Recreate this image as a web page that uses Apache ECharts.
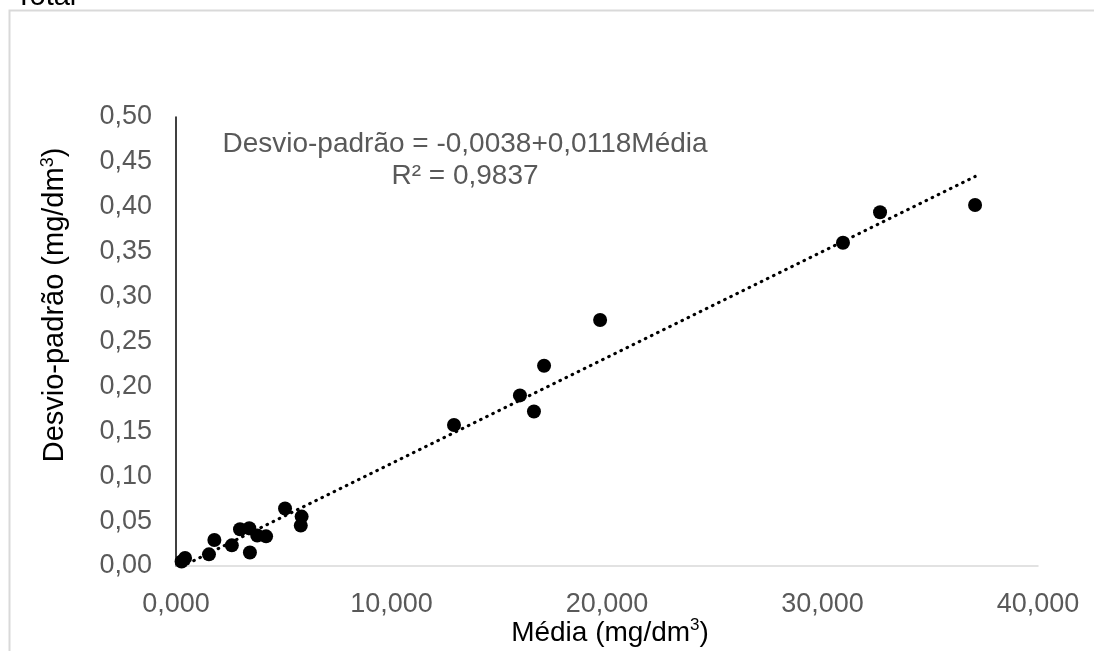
<!DOCTYPE html>
<html>
<head>
<meta charset="utf-8">
<script src="https://cdn.jsdelivr.net/npm/echarts@6/dist/echarts.min.js"></script>
<style>
  html, body { margin: 0; padding: 0; background: #fff; }
  #chart { width: 1094px; height: 651px; }
</style>
</head>
<body>
<div id="chart"></div>
<script>
// Média (mg/dm³) of each sample
const mediaValues = [0.26, 0.42, 1.53, 1.78, 2.59, 2.97, 3.40, 3.43, 3.77, 4.18,
                     5.06, 5.83, 5.79, 12.90, 15.96, 16.61, 17.08, 19.68, 30.95, 32.67, 37.08];
// Desvio-padrão (mg/dm³) of each sample
const desvioValues = [0.005, 0.009, 0.013, 0.029, 0.023, 0.041, 0.042, 0.015, 0.034, 0.033,
                      0.064, 0.055, 0.045, 0.157, 0.190, 0.172, 0.223, 0.274, 0.360, 0.394, 0.402];
// Linear fit: Desvio-padrão = intercept + slope * Média
const fitCoefficients = [-0.0038, 0.0118];
const fitR2 = [0.9837];
// Axis ranges [min, max, step]
const xAxisRange = [0, 40, 10];
const yAxisRange = [0, 0.5, 0.05];

const fmt = (v, d) => v.toFixed(d).replace('.', ',');

const points = mediaValues.map((x, i) => [x, desvioValues[i]]);
const xMin = Math.min(...mediaValues), xMax = Math.max(...mediaValues);
const fitLine = [xMin, xMax].map(x => [x, fitCoefficients[0] + fitCoefficients[1] * x]);

const FONT = 'Liberation Sans, Arial, sans-serif';

const chart = echarts.init(document.getElementById('chart'), null, { renderer: 'canvas' });
chart.setOption({
  backgroundColor: '#fff',
  animation: false,
  grid: { left: 176, right: 56, top: 117, bottom: 85 },
  xAxis: {
    type: 'value',
    min: xAxisRange[0], max: xAxisRange[1], interval: xAxisRange[2],
    axisLine: { show: true, lineStyle: { color: '#d9d9d9', width: 1.5 } },
    axisTick: { show: false },
    splitLine: { show: false },
    axisLabel: {
      color: '#595959', fontFamily: FONT, fontSize: 27, margin: 25,
      formatter: v => fmt(v, 3)
    }
  },
  yAxis: {
    type: 'value',
    min: yAxisRange[0], max: yAxisRange[1], interval: yAxisRange[2],
    axisLine: { show: true, onZero: false, lineStyle: { color: '#000', width: 1.5 } },
    axisTick: { show: false },
    splitLine: { show: false },
    axisLabel: {
      color: '#595959', fontFamily: FONT, fontSize: 27, margin: 24,
      formatter: v => fmt(v, 2)
    }
  },
  series: [
    {
      type: 'scatter',
      data: points,
      symbol: 'circle',
      symbolSize: 14,
      itemStyle: { color: '#000', opacity: 1 },
      z: 2
    },
    {
      type: 'line',
      data: fitLine,
      symbol: 'none',
      lineStyle: { color: '#000', width: 3.2, type: [0.5, 6.3], cap: 'round' },
      z: 3
    }
  ],
  graphic: [
    {
      type: 'rect',
      shape: { x: 9.5, y: 10.5, width: 1200, height: 1000 },
      style: { fill: 'none', stroke: '#d9d9d9', lineWidth: 2 },
      silent: true
    },
    {
      type: 'text', x: 15, y: -18,
      style: { text: 'Total', font: '29px ' + FONT, fill: '#000', verticalAlign: 'top' }
    },
    {
      type: 'text', x: 465, y: 160,
      style: {
        text: 'Desvio-padrão = ' + fmt(fitCoefficients[0], 4) + '+' + fmt(fitCoefficients[1], 4) + 'Média\n' +
              'R² = ' + fmt(fitR2[0], 4),
        font: '28px ' + FONT, fill: '#595959',
        align: 'center', verticalAlign: 'middle', lineHeight: 32
      }
    },
    {
      type: 'text', x: 610, y: 633,
      style: {
        text: '{a|Média (mg/dm}{s|3}{a|)}',
        align: 'center', verticalAlign: 'middle',
        rich: {
          a: { font: '28px ' + FONT, fill: '#000', lineHeight: 32 },
          s: { font: '17px ' + FONT, fill: '#000', verticalAlign: 'top', lineHeight: 32 }
        }
      }
    },
    {
      type: 'text', x: 55, y: 305, rotation: Math.PI / 2,
      style: {
        text: '{a|Desvio-padrão (mg/dm}{s|3}{a|)}',
        align: 'center', verticalAlign: 'middle',
        rich: {
          a: { font: '29px ' + FONT, fill: '#000', lineHeight: 32 },
          s: { font: '18px ' + FONT, fill: '#000', verticalAlign: 'top', lineHeight: 32 }
        }
      }
    }
  ]
});
</script>
</body>
</html>
